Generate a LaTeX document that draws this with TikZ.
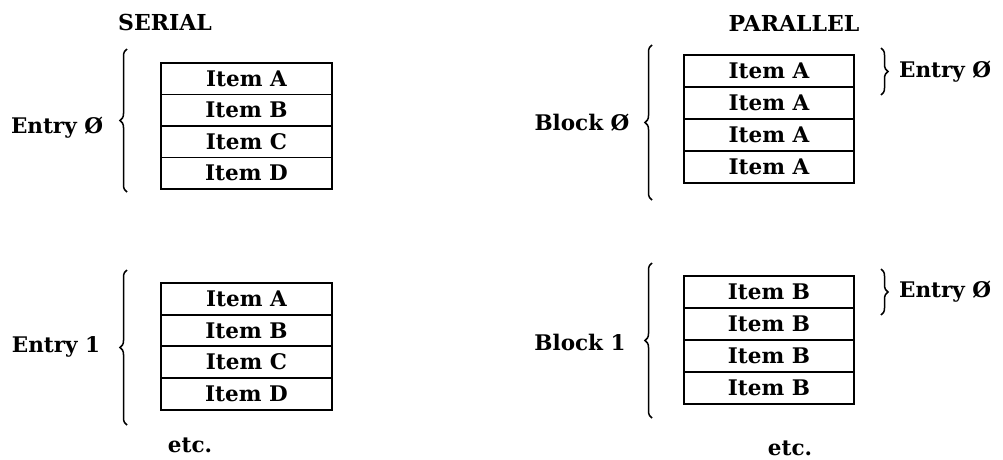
\documentclass[tikz,border=0pt]{standalone}
\usepackage{fontspec}
\setmainfont{DejaVu Serif}
\usetikzlibrary{decorations.pathreplacing}
\begin{document}
\begin{tikzpicture}[x=1pt,y=-1pt,
 item/.style={draw, line width=1.8pt, minimum width=171pt, minimum height=31.6pt, inner sep=0pt,
   font=\bfseries\fontsize{21.5}{24}\selectfont, anchor=north west},
 lbl/.style={font=\bfseries\fontsize{21.5}{24}\selectfont, inner sep=0pt},
 ttl/.style={font=\bfseries\fontsize{22}{24}\selectfont, inner sep=0pt},
 brc/.style={decorate, decoration={brace, amplitude=7pt}, line width=1.5pt}]
\useasboundingbox (0,0) rectangle (1003,459);
% titles
\node[ttl] (tser) at (165,22) {SERIAL};
\node[ttl] (tpar) at (794,23) {PARALLEL};
% serial entry 0
\node[item] (sa0) at (160,62) {Item A};
\node[item] (sb0) at (160,93.5) {Item B};
\node[item] (sc0) at (160,125) {Item C};
\node[item] (sd0) at (160,156.5) {Item D};
% serial entry 1
\node[item] (sa1) at (160,282) {Item A};
\node[item] (sb1) at (160,313.7) {Item B};
\node[item] (sc1) at (160,345.4) {Item C};
\node[item] (sd1) at (160,377.1) {Item D};
% parallel block 0
\node[item, minimum width=170pt, minimum height=32pt] (pa0) at (683,54) {Item A};
\node[item, minimum width=170pt, minimum height=32pt] (pa1) at (683,86) {Item A};
\node[item, minimum width=170pt, minimum height=32pt] (pa2) at (683,118) {Item A};
\node[item, minimum width=170pt, minimum height=32pt] (pa3) at (683,150) {Item A};
% parallel block 1
\node[item, minimum width=170pt, minimum height=32pt] (pb0) at (683,275) {Item B};
\node[item, minimum width=170pt, minimum height=32pt] (pb1) at (683,307) {Item B};
\node[item, minimum width=170pt, minimum height=32pt] (pb2) at (683,339) {Item B};
\node[item, minimum width=170pt, minimum height=32pt] (pb3) at (683,371) {Item B};
% labels
\node[lbl] (le0) at (57,128) {Entry Ø};
\node[lbl] (le1) at (56,347) {Entry 1};
\node[lbl] (lb0) at (582,123) {Block Ø};
\node[lbl] (lb1) at (580,342) {Block 1};
\node[lbl, anchor=west] (re0) at (899,72) {Entry Ø};
\node[lbl, anchor=west] (re1) at (899,292) {Entry Ø};
\node[lbl, anchor=base] (etc0) at (190,452) {etc.};
\node[lbl, anchor=base] (etc1) at (790,455) {etc.};
% braces
\coordinate (s0t) at (127,49);  \coordinate (s0b) at (127,192);
\coordinate (s1t) at (127,270); \coordinate (s1b) at (127,425);
\coordinate (p0t) at (652,45);  \coordinate (p0b) at (652,200);
\coordinate (p1t) at (652,263); \coordinate (p1b) at (652,418);
\coordinate (e0t) at (881,48);  \coordinate (e0b) at (881,95);
\coordinate (e1t) at (881,269); \coordinate (e1b) at (881,315);
\draw[brc] (s0b) -- (s0t);
\draw[brc] (s1b) -- (s1t);
\draw[brc] (p0b) -- (p0t);
\draw[brc] (p1b) -- (p1t);
\draw[brc] (e0t) -- (e0b);
\draw[brc] (e1t) -- (e1b);
\end{tikzpicture}
\end{document}
